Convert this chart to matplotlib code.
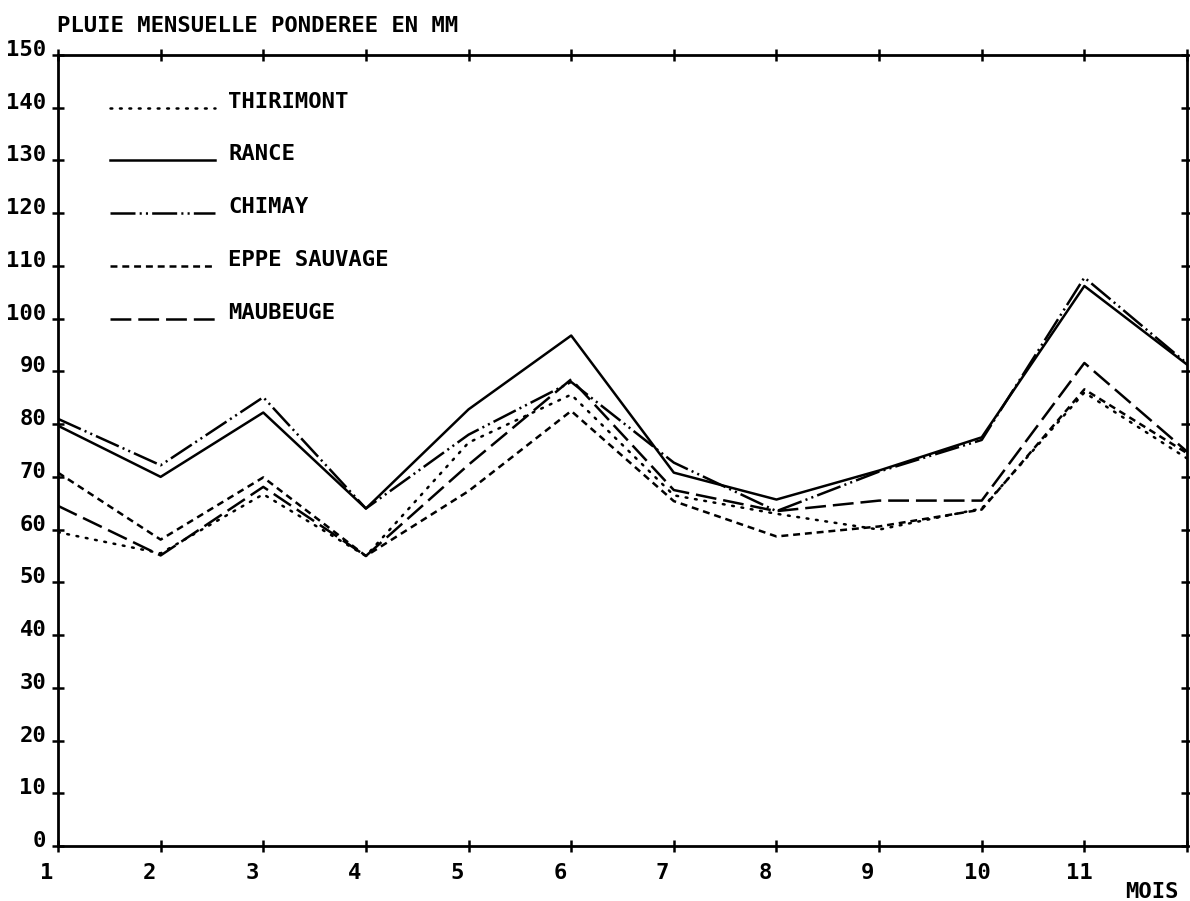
import matplotlib
matplotlib.use("Agg")
import matplotlib.pyplot as plt
import matplotlib.transforms as mtransforms

# ---- data ----
months = [1, 2, 3, 4, 5, 6, 7, 8, 9, 10, 11, 12]
thirimont = [59.5, 55.5, 66.7, 55.0, 76.5, 85.6, 66.5, 63.0, 60.0, 64.0, 86.0, 73.5]
rance     = [79.7, 70.0, 82.2, 64.0, 82.8, 96.8, 70.8, 65.7, 71.2, 77.5, 106.2, 91.3]
chimay    = [81.0, 72.2, 85.1, 64.0, 78.0, 88.0, 72.7, 63.5, 71.0, 77.0, 107.8, 91.5]
eppe      = [70.8, 58.1, 69.9, 55.0, 67.3, 82.5, 65.4, 58.7, 60.6, 63.8, 86.6, 74.5]
maubeuge  = [64.5, 55.1, 68.1, 55.0, 72.3, 88.5, 67.5, 63.5, 65.5, 65.5, 91.6, 74.8]

series_names = ["THIRIMONT", "RANCE", "CHIMAY", "EPPE SAUVAGE", "MAUBEUGE"]
series_values = [thirimont, rance, chimay, eppe, maubeuge]
legend_levels = [140, 130, 120, 110, 100]

y_ticks = list(range(0, 151, 10))
y_ticklabels = [str(v) for v in y_ticks]
x_ticks = months
x_ticklabels = [str(m) for m in months[:-1]] + [""]

title = "PLUIE MENSUELLE PONDEREE EN MM"
xlabel = "MOIS"

# ---- styles ----
plt.rcParams['lines.scale_dashes'] = False
FONT = dict(family=['DejaVu Sans Mono', 'DejaVu Sans'], weight='bold')
styles = [
    dict(linestyle=(0, (1.3, 5.5)), dash_capstyle='round'),   # dotted
    dict(linestyle='-'),                                       # solid
    dict(linestyle=(0, (18, 3, 1.5, 3, 1.5, 3))),             # dash-dot-dot
    dict(linestyle=(0, (5, 3.5))),                             # short dash
    dict(linestyle=(0, (15, 5))),                              # long dash
]
LW = 1.8

W, H = 1190, 901
fig = plt.figure(figsize=(W / 100, H / 100), dpi=100)
L, R, T, B = 58, 1187, 55, 846
ax = fig.add_axes([L / W, 1 - B / H, (R - L) / W, (B - T) / H])

for vals, st in zip(series_values, styles):
    ax.plot(months, vals, color='black', lw=LW, **st)

# legend drawn inside the axes (line sample + label)
px_to_x = lambda px: 1 + (px - L) * 11 / (R - L)
for name, lev, st in zip(series_names, legend_levels, styles):
    ax.plot([px_to_x(110), px_to_x(215)], [lev, lev], color='black', lw=LW, **st)
    ax.text(px_to_x(228), lev, name, fontsize=16, va='baseline', ha='left', **FONT)

ax.set_xlim(1, 12)
ax.set_ylim(0, 150)
for s in ax.spines.values():
    s.set_linewidth(2.0)

ax.set_yticks(y_ticks)
ax.set_yticklabels(y_ticklabels, va='baseline', **FONT, fontsize=16)
ax.set_xticks(x_ticks)
ax.set_xticklabels(x_ticklabels, ha='left', **FONT, fontsize=16)
ax.tick_params(axis='both', direction='inout', length=9, width=1.8,
               top=True, right=True, labeltop=False, labelright=False)
ax.tick_params(axis='y', pad=4)
ax.tick_params(axis='x', pad=8)

offx = mtransforms.ScaledTranslation(-18 / 100, 0, fig.dpi_scale_trans)
for lab in ax.get_xticklabels():
    lab.set_transform(lab.get_transform() + offx)
offy = mtransforms.ScaledTranslation(0, -1 / 100, fig.dpi_scale_trans)
for lab in ax.get_yticklabels():
    lab.set_transform(lab.get_transform() + offy)

fig.text(57 / W, 1 - 32 / H, title, fontsize=16, ha='left', va='baseline', **FONT)
fig.text(1125 / W, 1 - 898 / H, xlabel, fontsize=16, ha='left', va='baseline', **FONT)

fig.savefig("out.png", dpi=100, facecolor='white')
